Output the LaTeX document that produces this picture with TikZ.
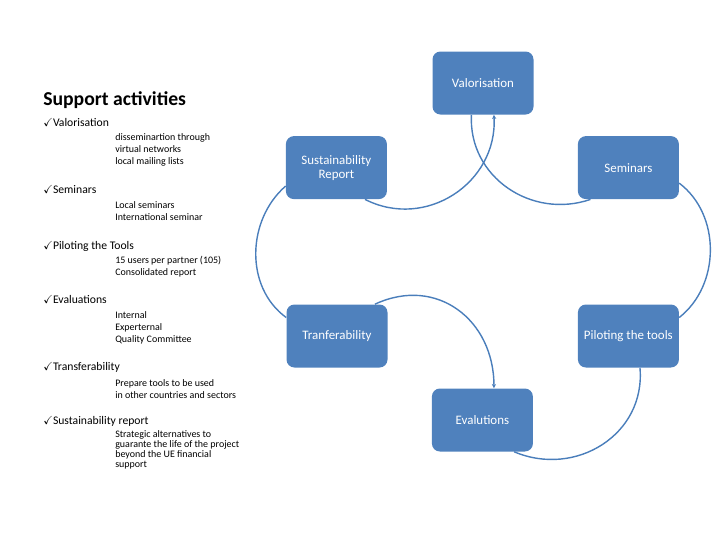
\documentclass[tikz,border=0pt]{standalone}
\usepackage{fontspec}
\setmainfont{Carlito}
\usepackage{amssymb}
\usetikzlibrary{arrows.meta}
\definecolor{boxblue}{HTML}{4F81BD}
\definecolor{lineblue}{HTML}{4A7EBB}

\begin{document}
\begin{tikzpicture}[
  box/.style={rectangle, rounded corners=2mm, fill=boxblue, text=white, minimum width=25.25mm, minimum height=15.75mm, align=center, font=\fontsize{9.2}{10}\selectfont},
  item/.style={anchor=base west, inner sep=0pt, font=\fontsize{8.3}{10}\selectfont},
  sub/.style={anchor=base west, inner sep=0pt, align=left, font=\fontsize{7.1}{8.5}\selectfont},
  link/.style={draw=lineblue, line width=1pt},
  tip/.style={-{Stealth[length=3pt,width=3pt]}}
]
\useasboundingbox (0,0) rectangle (18,-13.5);

% list on the left (sub nodes sit on the baseline of their last line)
\node (heading) [anchor=base west, inner sep=0pt, font=\fontsize{14}{16}\selectfont\bfseries] at (1.075,-2.625) {Support activities};

\node (itemvalo) [item] at (1.075,-3.15) {$\checkmark$Valorisation};
\node (subvalo) [sub] at (2.875,-4.1) {disseminartion through\\virtual networks\\local mailing lists};

\node (itemsemi) [item] at (1.075,-4.825) {$\checkmark$Seminars};
\node (subsemi) [sub] at (2.875,-5.5) {Local seminars\\International seminar};

\node (itempilot) [item] at (1.075,-6.225) {$\checkmark$Piloting the Tools};
\node (subpilot) [sub] at (2.875,-6.875) {15 users per partner (105)\\Consolidated report};

\node (itemeval) [item] at (1.075,-7.575) {$\checkmark$Evaluations};
\node (subeval) [sub] at (2.875,-8.55) {Internal\\Experternal\\Quality Committee};

\node (itemtran) [item] at (1.075,-9.25) {$\checkmark$Transferability};
\node (subtran) [sub] at (2.875,-9.95) {Prepare tools to be used\\in other countries and sectors};

\node (itemsust) [item] at (1.075,-10.6) {$\checkmark$Sustainability report};
\node (subsust) [sub, font=\fontsize{7.1}{7.1}\selectfont] at (2.875,-11.675) {Strategic alternatives to\\guarante the life of the project\\beyond the UE financial\\support};

% cycle
\node (valo) [box] at (12.075,-2.075) {Valorisation};
\node (sust) [box] at (8.41,-4.19) {Sustainability\\Report};
\node (semi) [box] at (15.71,-4.19) {Seminars};
\node (tran) [box] at (8.425,-8.4) {Tranferability};
\node (pilot) [box] at (15.71,-8.4) {Piloting the tools};
\node (eval) [box] at (12.06,-10.5) {Evalutions};

\draw [link, tip] (sust.-48) to[out=-27, in=-87, looseness=1.13] (valo.-71);
\draw [link] (valo.-110) to[out=-93, in=-161, looseness=1.09] (semi.-140);
\draw [link] (semi.-17) to[out=-37, in=38] (pilot.20);
\draw [link] (pilot.-70) to[out=-85, in=-23, looseness=1.13] (eval.-45);
\draw [link, tip] (tran.40) to[out=25, in=90, looseness=1.2] (eval.70);
\draw [link] (sust.200) to[out=-139, in=144] (tran.160);
\end{tikzpicture}
\end{document}
